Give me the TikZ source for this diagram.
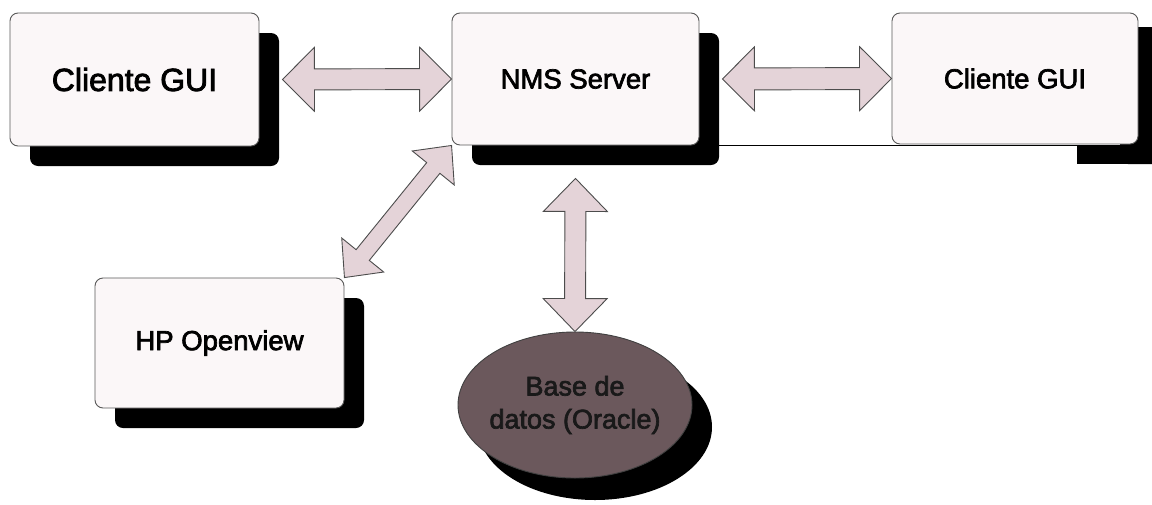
\documentclass[tikz,border=0pt]{standalone}
\usepackage{fontspec}
\setmainfont{Liberation Sans}
\newfontfamily\scanfont{Liberation Sans}[FakeBold=2.5]
\usetikzlibrary{calc,shadows,shapes.geometric}

\definecolor{boxfill}{HTML}{FBF7F8}
\definecolor{linkfill}{HTML}{E4D3D8}
\definecolor{dbfill}{HTML}{6B585C}

% fat double arrow between two points: tips, head length, head half width, shaft half width
\newcommand{\fatarrow}[5]{%
  \coordinate (fa1) at ($(#1)!#3!(#2)$);
  \coordinate (fa2) at ($(#2)!#3!(#1)$);
  \draw[link] (#1) -- ($(fa1)!#4!90:(#2)$) -- ($(fa1)!#5!90:(#2)$)
    -- ($(fa2)!#5!-90:(#1)$) -- ($(fa2)!#4!-90:(#1)$) -- (#2)
    -- ($(fa2)!#4!90:(#1)$) -- ($(fa2)!#5!90:(#1)$)
    -- ($(fa1)!#5!-90:(#2)$) -- ($(fa1)!#4!-90:(#2)$) -- cycle;
}

\begin{document}
\begin{tikzpicture}[x=1pt,y=-1pt]
  \tikzstyle{plainbox}=[draw=black!65,fill=boxfill,rounded corners=8pt,line width=0.9pt,
    minimum width=248pt,minimum height=132pt,inner sep=0pt,
    font=\scanfont\fontsize{27.5}{33}\selectfont]
  \tikzstyle{box}=[plainbox,
    drop shadow={shadow xshift=20pt,shadow yshift=-20pt,fill=black,opacity=1}]
  \tikzstyle{dbshape}=[ellipse,draw=black!75,fill=dbfill,line width=0.9pt,
    minimum width=234pt,minimum height=146pt,inner xsep=-5pt,inner ysep=0pt,
    align=center,text=black!90,font=\scanfont\fontsize{27}{33}\selectfont,
    drop shadow={shadow xshift=20pt,shadow yshift=-22pt,fill=black,opacity=1}]
  \tikzstyle{link}=[draw=black!70,fill=linkfill,line width=0.9pt,line join=miter]
  \useasboundingbox (0,0) rectangle (1152,504);

  % worn-off shadow of the right client
  \fill[rounded corners=8pt] (1120,27) rectangle (1165,164);
  \fill (1077,146) rectangle (1130,164);

  \node[box,minimum width=249pt,minimum height=133pt,font=\scanfont\fontsize{32}{38}\selectfont] (cgl) at (134.5,79.5) {Cliente GUI};
  \node[box,minimum width=247pt] (nms) at (575.5,79) {NMS Server};
  \node[plainbox,minimum width=246pt,minimum height=131pt] (cgr) at (1015,78.5) {Cliente GUI};
  \node[box,minimum width=249pt,minimum height=130pt] (hp) at (219.5,343) {HP Openview};
  \node[dbshape] (db) at (575,405) {Base de\\datos (Oracle)};

  \draw[line width=1.2pt] ([xshift=19pt]nms.south east) -- (cgr.south east |- nms.south east);

  \coordinate (cgl-r) at ([xshift=23pt]cgl.east);
  \coordinate (nms-r) at ([xshift=23pt]nms.east);
  \coordinate (nms-b) at ([yshift=-33pt]nms.south);

  \fatarrow{cgl-r}{nms.west}{32pt}{32pt}{10.5pt}
  \fatarrow{nms-r}{cgr.west}{32pt}{32pt}{11pt}
  \fatarrow{nms.south west}{hp.north east}{29pt}{27pt}{8.5pt}
  \fatarrow{nms-b}{db.north}{33pt}{32pt}{10.5pt}
\end{tikzpicture}
\end{document}
